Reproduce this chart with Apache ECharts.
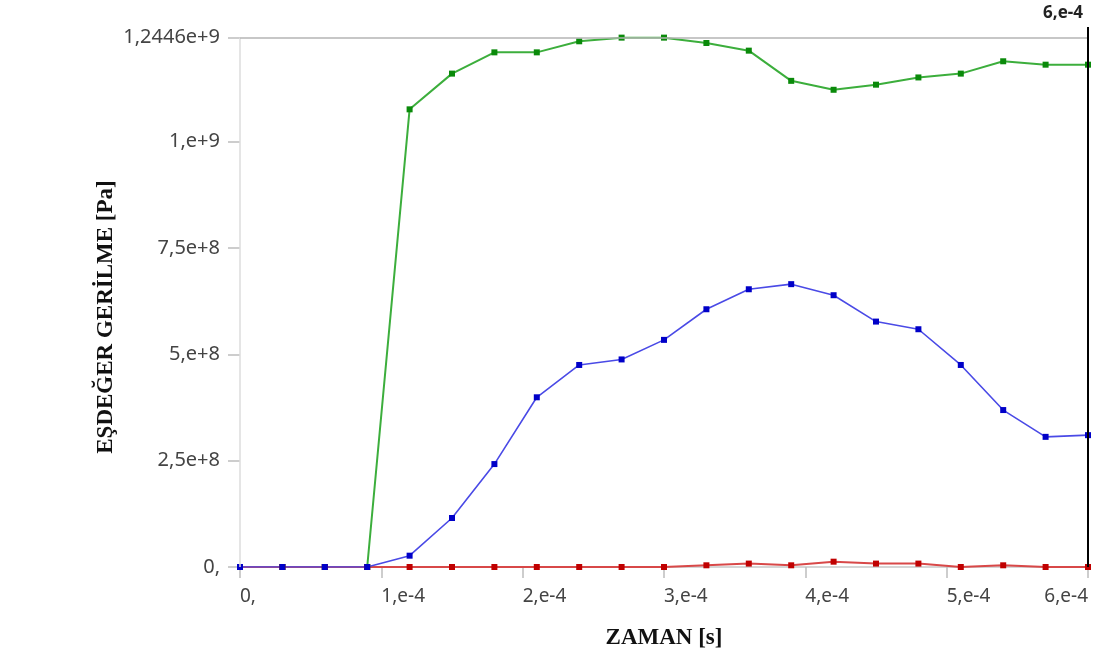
<!DOCTYPE html>
<html>
<head>
<meta charset="utf-8">
<script src="https://cdn.jsdelivr.net/npm/echarts@6/dist/echarts.min.js"></script>
<style>html,body{margin:0;padding:0;background:#fff}#c{width:1094px;height:657px}</style>
</head>
<body>
<div id="c"></div>
<script>
// time [s]
var time = [0, 3e-5, 6e-5, 9e-5, 1.2e-4, 1.5e-4, 1.8e-4, 2.1e-4, 2.4e-4, 2.7e-4, 3.0e-4,
            3.3e-4, 3.6e-4, 3.9e-4, 4.2e-4, 4.5e-4, 4.8e-4, 5.1e-4, 5.4e-4, 5.7e-4, 6.0e-4];
// stress [Pa]
var greenSeries = [0, 0, 0, 0, 1.076e9, 1.160e9, 1.210e9, 1.210e9, 1.236e9, 1.2446e9, 1.2446e9,
                   1.232e9, 1.214e9, 1.143e9, 1.122e9, 1.134e9, 1.151e9, 1.160e9, 1.189e9, 1.181e9, 1.181e9];
var blueSeries = [0, 0, 0, 0, 2.66e7, 1.152e8, 2.42e8, 3.99e8, 4.75e8, 4.88e8, 5.34e8,
                  6.06e8, 6.53e8, 6.65e8, 6.39e8, 5.77e8, 5.59e8, 4.75e8, 3.69e8, 3.06e8, 3.10e8];
var redSeries = [0, 0, 0, 0, 0, 0, 0, 0, 0, 0, 0,
                 4e6, 8e6, 4e6, 1.25e7, 8e6, 8e6, 0, 4e6, 0, 0];
var yTickValues = [0, 2.5e8, 5e8, 7.5e8, 1e9, 1.2446e9];
var yTickLabels = ['0,', '2,5e+8', '5,e+8', '7,5e+8', '1,e+9', '1,2446e+9'];
var xTickValues = [0, 1e-4, 2e-4, 3e-4, 4e-4, 5e-4, 6e-4];
var xTickLabels = ['0,', '1,e-4', '2,e-4', '3,e-4', '4,e-4', '5,e-4', '6,e-4'];
var yMaxValue = 1.2446e9;
var yAxisTop = 1.2696e9;
var xMaxValue = 6e-4;
var cursorTime = 6e-4;
var cursorLabel = '6,e-4';

function pairs(vals) { return time.map(function (t, i) { return [t, vals[i]]; }); }

var chart = echarts.init(document.getElementById('c'), null, {renderer: 'canvas'});
var labelFont = 'Noto Sans';
chart.setOption({
  animation: false,
  backgroundColor: '#fff',
  title: {
    text: cursorLabel, right: 6, top: 0,
    textStyle: {fontFamily: labelFont, fontSize: 17, fontWeight: 'bold', color: '#222'}
  },
  grid: {left: 240, right: 6, top: 27, bottom: 90},
  xAxis: {
    type: 'value', min: 0, max: xMaxValue, interval: 1e-4,
    name: 'ZAMAN [s]', nameLocation: 'middle', nameGap: 60, nameMoveOverlap: false,
    nameTextStyle: {fontFamily: 'Liberation Serif', fontSize: 23, fontWeight: 'bold', color: '#111'},
    axisLine: {show: true, lineStyle: {color: '#c8c8c8', width: 1.5}},
    axisTick: {show: true, length: 11, lineStyle: {color: '#bdbdbd', width: 1.5}},
    axisLabel: {
      fontFamily: labelFont, fontSize: 19, color: '#444', margin: 20,
      align: 'left', alignMaxLabel: 'right',
      formatter: function (v) {
        var idx = xTickValues.findIndex(function (t) { return Math.abs(t - v) < 1e-9; });
        return idx >= 0 ? xTickLabels[idx] : '';
      }
    },
    splitLine: {show: false}
  },
  yAxis: {
    type: 'value', min: 0, max: yAxisTop,
    name: 'EŞDEĞER GERİLME [Pa]', nameLocation: 'middle', nameGap: 122, nameMoveOverlap: false,
    nameTextStyle: {fontFamily: 'Liberation Serif', fontSize: 23, fontWeight: 'bold', color: '#111', padding: [0, 40, 0, 0]},
    axisLine: {show: false},
    axisTick: {show: true, length: 12, customValues: yTickValues, lineStyle: {color: '#bdbdbd', width: 1.5}},
    axisLabel: {
      fontFamily: labelFont, fontSize: 20, color: '#444', margin: 20, padding: [8, 0, 0, 0],
      customValues: yTickValues,
      formatter: function (v) {
        var idx = yTickValues.findIndex(function (t) { return Math.abs(t - v) < 1; });
        return idx >= 0 ? yTickLabels[idx] : '';
      }
    },
    splitLine: {show: false}
  },
  series: [
    {
      name: 'frame', type: 'line', data: [], silent: true,
      markLine: {
        silent: true, symbol: 'none', animation: false, label: {show: false},
        data: [
          [{coord: [0, 0], lineStyle: {color: '#dcdcdc', width: 1.5, type: 'solid'}}, {coord: [0, yMaxValue]}],
          [{coord: [0, yMaxValue], lineStyle: {color: '#b4b4b4', width: 1.5, type: 'solid'}}, {coord: [xMaxValue, yMaxValue]}]
        ]
      }
    },
    {
      name: 'green', type: 'line', data: pairs(greenSeries),
      symbol: 'rect', symbolSize: 6, showAllSymbol: true,
      lineStyle: {color: '#3cae3c', width: 2},
      itemStyle: {color: '#0a8a0a'}
    },
    {
      name: 'red', type: 'line', data: pairs(redSeries),
      symbol: 'rect', symbolSize: 6, showAllSymbol: true,
      lineStyle: {color: '#d84848', width: 2},
      itemStyle: {color: '#c00000'}
    },
    {
      name: 'blue', type: 'line', data: pairs(blueSeries),
      symbol: 'rect', symbolSize: 6, showAllSymbol: true,
      lineStyle: {color: '#4a4ae6', width: 1.6},
      itemStyle: {color: '#0000c8'},
      markLine: {
        silent: true, symbol: 'none', animation: false, label: {show: false},
        data: [
          [{coord: [cursorTime, 0], lineStyle: {color: '#000', width: 2, type: 'solid'}}, {coord: [cursorTime, yAxisTop]}]
        ]
      }
    }
  ]
});
</script>
</body>
</html>
